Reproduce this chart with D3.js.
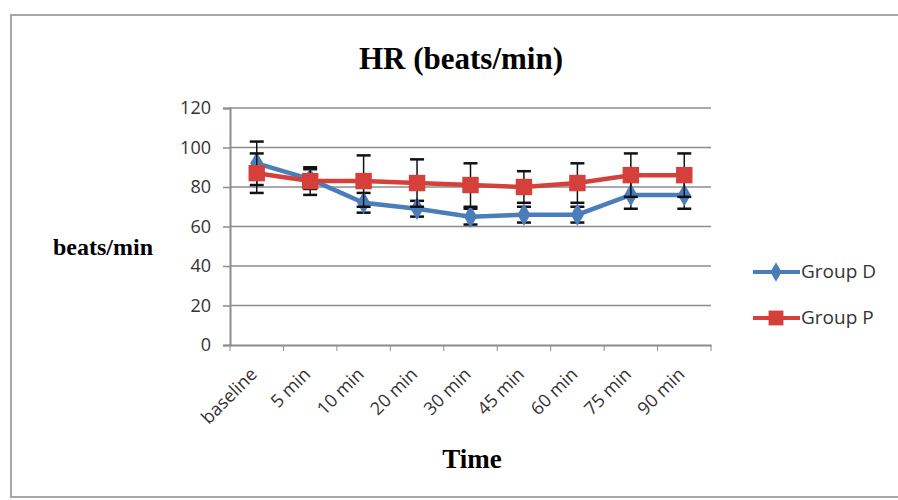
<!DOCTYPE html>
<html>
<head>
<meta charset="utf-8">
<script src="https://cdn.jsdelivr.net/npm/d3@7"></script>
<style>
  body { margin: 0; background: #fff; }
  svg { display: block; }
  .axis text { font-family: "Open Sans", "DejaVu Sans", sans-serif; font-size: 18px; fill: #333; }
</style>
</head>
<body>
<svg id="chart" width="898" height="500"></svg>
<script>
// data
var times = ["baseline", "5 min", "10 min", "20 min", "30 min", "45 min", "60 min", "75 min", "90 min"];
var groupD = [92, 84, 72, 69, 65, 66, 66, 76, 76];
var groupDErr = [11, 5, 5, 4, 4, 4, 4, 7, 7];
var groupP = [87, 83, 83, 82, 81, 80, 82, 86, 86];
var groupPErr = [10, 7, 13, 12, 11, 8, 10, 11, 11];
var yTicks = [0, 20, 40, 60, 80, 100, 120];

var svg = d3.select("#chart");

// outer frame
svg.append("rect")
    .attr("x", 11).attr("y", 15)
    .attr("width", 920).attr("height", 482)
    .attr("fill", "none")
    .attr("stroke", "#a6a6a6")
    .attr("stroke-width", 2);

var plotLeft = 230, plotRight = 711, plotTop = 108, plotBottom = 345;

var x = d3.scaleBand().domain(times).range([plotLeft, plotRight]);
var y = d3.scaleLinear().domain([0, 120]).range([plotBottom, plotTop]);

// gridlines
svg.append("g")
    .selectAll("line")
    .data(yTicks.filter(function(d) { return d > 0; }))
    .enter().append("line")
    .attr("x1", plotLeft).attr("x2", plotRight)
    .attr("y1", function(d) { return y(d); })
    .attr("y2", function(d) { return y(d); })
    .attr("stroke", "#8c8c8c")
    .attr("stroke-width", 1.5);

// y axis
var yAxis = d3.axisLeft(y).tickValues(yTicks).tickSize(7).tickPadding(12);
var gy = svg.append("g")
    .attr("class", "y axis")
    .attr("transform", "translate(" + plotLeft + ",0)")
    .call(yAxis);
gy.select(".domain").attr("stroke", "#8c8c8c").attr("stroke-width", 2);
gy.selectAll(".tick line").attr("stroke", "#8c8c8c").attr("stroke-width", 1.5);

// x axis
var xAxis = d3.axisBottom(x).tickSize(0);
var gx = svg.append("g")
    .attr("class", "x axis")
    .attr("transform", "translate(0," + plotBottom + ")")
    .call(xAxis);
gx.select(".domain").attr("stroke", "#8c8c8c").attr("stroke-width", 2);
gx.selectAll(".tick text")
    .attr("text-anchor", "end")
    .attr("x", 0).attr("y", 0)
    .attr("dy", "0.35em")
    .attr("transform", "translate(-3,26) rotate(-45)");
// tick marks between categories
gx.selectAll(".sep")
    .data(times.concat(["end"]))
    .enter().append("line")
    .attr("class", "sep")
    .attr("x1", function(d, i) { return plotLeft + i * x.step(); })
    .attr("x2", function(d, i) { return plotLeft + i * x.step(); })
    .attr("y1", 0).attr("y2", 6)
    .attr("stroke", "#8c8c8c");

var cx = function(d, i) { return x(times[i]) + x.bandwidth() / 2; };

function drawErrors(vals, errs) {
  var g = svg.append("g");
  vals.forEach(function(v, i) {
    var xc = x(times[i]) + x.bandwidth() / 2;
    g.append("line")
        .attr("x1", xc).attr("x2", xc)
        .attr("y1", y(v - errs[i])).attr("y2", y(v + errs[i]))
        .attr("stroke", "#111").attr("stroke-width", 1.5);
    [v - errs[i], v + errs[i]].forEach(function(e) {
      g.append("line")
          .attr("x1", xc - 7).attr("x2", xc + 7)
          .attr("y1", y(e)).attr("y2", y(e))
          .attr("stroke", "#111").attr("stroke-width", 2.5);
    });
  });
}

var line = d3.line()
    .x(cx)
    .y(function(d) { return y(d); });

function drawSeries(vals, errs, color, shape) {
  drawErrors(vals, errs);
  svg.append("path")
      .datum(vals)
      .attr("fill", "none")
      .attr("stroke", color)
      .attr("stroke-width", 4.5)
      .attr("d", line);
  svg.append("g").selectAll("path")
      .data(vals)
      .enter().append("path")
      .attr("transform", function(d, i) { return "translate(" + cx(d, i) + "," + y(d) + ")"; })
      .attr("d", d3.symbol().type(shape).size(shape === d3.symbolSquare ? 270 : 150))
      .attr("fill", color);
}

drawSeries(groupD, groupDErr, "#4a7ebb", d3.symbolDiamond);
drawSeries(groupP, groupPErr, "#d6403a", d3.symbolSquare);

// title and axis labels
svg.append("text")
    .attr("x", 461).attr("y", 69)
    .attr("text-anchor", "middle")
    .style("font-family", "'Liberation Serif', 'DejaVu Serif', serif")
    .style("font-weight", "bold")
    .style("font-size", "31px")
    .text("HR (beats/min)");

svg.append("text")
    .attr("x", 153).attr("y", 255)
    .attr("text-anchor", "end")
    .style("font-family", "'Liberation Serif', 'DejaVu Serif', serif")
    .style("font-weight", "bold")
    .style("font-size", "24px")
    .text("beats/min");

svg.append("text")
    .attr("x", 472).attr("y", 468)
    .attr("text-anchor", "middle")
    .style("font-family", "'Liberation Serif', 'DejaVu Serif', serif")
    .style("font-weight", "bold")
    .style("font-size", "27px")
    .text("Time");

// legend
var legend = [
  { name: "Group D", color: "#4a7ebb", shape: d3.symbolDiamond, y: 272 },
  { name: "Group P", color: "#d6403a", shape: d3.symbolSquare, y: 318 }
];
legend.forEach(function(l) {
  svg.append("line")
      .attr("x1", 753).attr("x2", 800)
      .attr("y1", l.y).attr("y2", l.y)
      .attr("stroke", l.color).attr("stroke-width", 4);
  svg.append("path")
      .attr("transform", "translate(776," + l.y + ")")
      .attr("d", d3.symbol().type(l.shape).size(l.shape === d3.symbolSquare ? 220 : 110))
      .attr("fill", l.color);
  svg.append("text")
      .attr("x", 801).attr("y", l.y + 6)
      .style("font-family", "'Open Sans', 'DejaVu Sans', sans-serif")
      .style("font-size", "19px")
      .attr("fill", "#333")
      .text(l.name);
});
</script>
</body>
</html>
